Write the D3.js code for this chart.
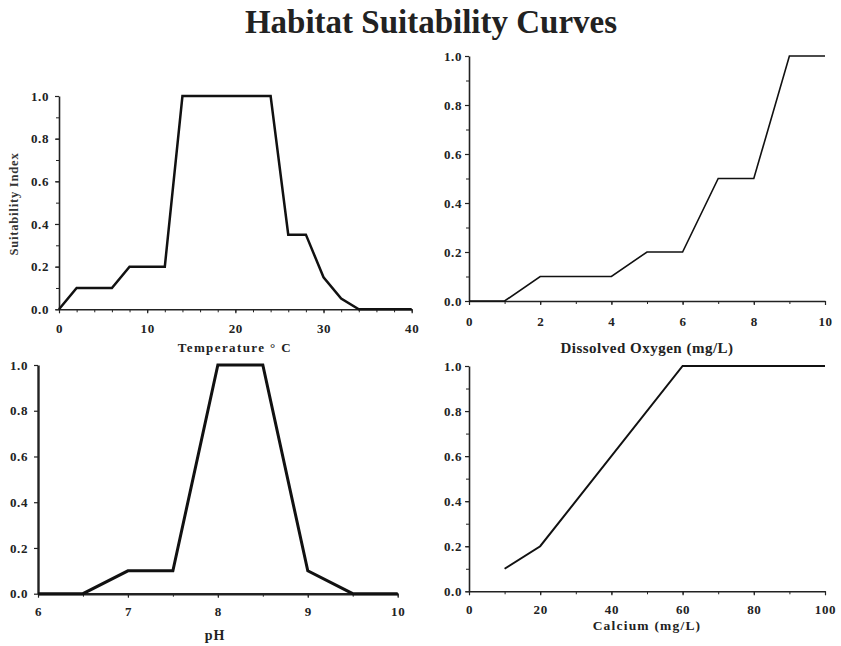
<!DOCTYPE html>
<html><head><meta charset="utf-8">
<script src="https://cdn.jsdelivr.net/npm/d3@7/dist/d3.min.js"></script>
<style>
body{margin:0;background:#fff;}
svg{display:block;}
.tick text{font-family:"Liberation Serif","Times New Roman",serif;font-weight:bold;font-size:13px;letter-spacing:0.6px;fill:#222;}
</style></head>
<body>
<svg id="chart" width="841" height="646"></svg>
<script>
// ---- Data ----
const tempX = [0, 2, 6, 8, 12, 14, 24, 26, 28, 30, 32, 34, 40];
const tempY = [0, 0.1, 0.1, 0.2, 0.2, 1, 1, 0.35, 0.35, 0.15, 0.05, 0, 0];
const doX = [0, 1, 2, 4, 5, 6, 7, 8, 9, 10];
const doY = [0, 0, 0.1, 0.1, 0.2, 0.2, 0.5, 0.5, 1, 1];
const phX = [6, 6.5, 7, 7.5, 8, 8.5, 9, 9.5, 10];
const phY = [0, 0, 0.1, 0.1, 1, 1, 0.1, 0, 0];
const caX = [10, 20, 60, 100];
const caY = [0.1, 0.2, 1, 1];
const yTicks = [0, 0.2, 0.4, 0.6, 0.8, 1.0];
const yMinor = [0, 0.1, 0.2, 0.3, 0.4, 0.5, 0.6, 0.7, 0.8, 0.9, 1.0];
const tempTicks = [0, 10, 20, 30, 40];
const tempMinor = [0, 2, 4, 6, 8, 10, 12, 14, 16, 18, 20, 22, 24, 26, 28, 30, 32, 34, 36, 38, 40];
const doTicks = [0, 2, 4, 6, 8, 10];
const doMinor = [0, 1, 2, 3, 4, 5, 6, 7, 8, 9, 10];
const phTicks = [6, 7, 8, 9, 10];
const phMinor = [6, 6.5, 7, 7.5, 8, 8.5, 9, 9.5, 10];
const caTicks = [0, 20, 40, 60, 80, 100];
const caMinor = [0, 10, 20, 30, 40, 50, 60, 70, 80, 90, 100];
const title = "Habitat Suitability Curves";
const yTitle = "Suitability Index";

const svg = d3.select("#chart");
const serif = '"Liberation Serif","Times New Roman",serif';

svg.append("text").attr("x", 431).attr("y", 33).attr("text-anchor", "middle")
  .attr("font-family", serif).attr("font-weight", "bold").attr("font-size", 33)
  .attr("fill", "#222").text(title);

function panel(cfg) {
  const g = svg.append("g");
  const x = d3.scaleLinear().domain(cfg.xd).range([cfg.l, cfg.r]);
  const y = d3.scaleLinear().domain([0, 1]).range([cfg.b, cfg.t]);
  const fmt = d3.format(cfg.xfmt || "d");
  if (cfg.xMinor) {
    g.append("g").attr("transform", `translate(0,${cfg.b})`)
      .call(d3.axisBottom(x).tickValues(cfg.xMinor).tickSize(3).tickFormat(""))
      .call(a => a.select(".domain").remove())
      .call(a => a.selectAll("line").attr("stroke", "#222").attr("stroke-width", 1));
  }
  if (cfg.yMinor) {
    g.append("g").attr("transform", `translate(${cfg.l},0)`)
      .call(d3.axisLeft(y).tickValues(cfg.yMinor).tickSize(3).tickFormat(""))
      .call(a => a.select(".domain").remove())
      .call(a => a.selectAll("line").attr("stroke", "#222").attr("stroke-width", 1));
  }
  const xa = g.append("g").attr("transform", `translate(0,${cfg.b})`)
    .call(d3.axisBottom(x).tickValues(cfg.xTicks).tickSize(4).tickSizeOuter(0).tickFormat(fmt));
  xa.selectAll("text").attr("y", cfg.xLabOff).attr("dy", "0.35em");
  const ya = g.append("g").attr("transform", `translate(${cfg.l},0)`)
    .call(d3.axisLeft(y).tickValues(yTicks).tickSize(4).tickSizeOuter(0).tickPadding(cfg.yPad).tickFormat(d3.format(".1f")));
  [xa, ya].forEach(a => {
    a.select(".domain").attr("stroke", "#222").attr("stroke-width", cfg.aw);
    a.selectAll(".tick line").attr("stroke", "#222").attr("stroke-width", 1.2);
  });
  const pts = cfg.xs.map((v, i) => [v, cfg.ys[i]]);
  g.append("path").datum(pts)
    .attr("d", d3.line().x(d => x(d[0])).y(d => y(d[1])))
    .attr("fill", "none").attr("stroke", "#111").attr("stroke-width", cfg.lw)
    .attr("stroke-linejoin", "miter");
  g.append("text").attr("x", cfg.labX).attr("y", cfg.labY).attr("text-anchor", "middle")
    .attr("font-family", serif).attr("font-weight", "bold").attr("font-size", cfg.labSize)
    .attr("letter-spacing", cfg.ls || 0)
    .attr("fill", "#222").text(cfg.label);
}

panel({l: 59, r: 411.7, t: 96, b: 309.3, xd: [0, 40], xTicks: tempTicks, xMinor: tempMinor, yMinor: yMinor,
  xs: tempX, ys: tempY, lw: 2.5, aw: 1.6, xLabOff: 19, yPad: 6,
  label: "Temperature ° C", labX: 235, labY: 352, labSize: 13, ls: 1.4});
panel({l: 469, r: 825, t: 56, b: 301, xd: [0, 10], xTicks: doTicks, xMinor: doMinor, yMinor: yMinor,
  xs: doX, ys: doY, lw: 1.6, aw: 1.6, xLabOff: 20.5, yPad: 3,
  label: "Dissolved Oxygen (mg/L)", labX: 647, labY: 353, labSize: 15, ls: 0.5});
panel({l: 38, r: 397.7, t: 365, b: 593.7, xd: [6, 10], xTicks: phTicks, xMinor: phMinor, yMinor: null,
  xs: phX, ys: phY, lw: 3, aw: 2.4, xLabOff: 18, yPad: 6,
  label: "pH", labX: 215, labY: 640, labSize: 14, ls: 1});
panel({l: 469, r: 825, t: 366, b: 591.3, xd: [0, 100], xTicks: caTicks, xMinor: caMinor, yMinor: yMinor,
  xs: caX, ys: caY, lw: 2, aw: 1.6, xLabOff: 18, yPad: 3,
  label: "Calcium (mg/L)", labX: 647, labY: 630, labSize: 13.5, ls: 1.2});

svg.append("text").attr("transform", "translate(18,204) rotate(-90)").attr("text-anchor", "middle")
  .attr("font-family", serif).attr("font-weight", "bold").attr("font-size", 12.5)
  .attr("letter-spacing", 0.8)
  .attr("fill", "#333").text(yTitle);
</script>
</body></html>
